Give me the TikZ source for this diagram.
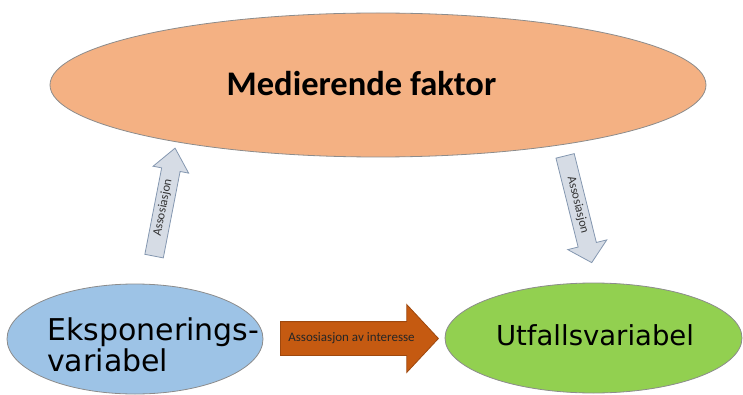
\documentclass[tikz,border=0pt]{standalone}
\usepackage{fontspec}
\usetikzlibrary{shapes.geometric,shapes.arrows}
\newfontfamily\carlito{Carlito}
\newfontfamily\dejavu{DejaVu Sans}
\definecolor{mediator}{HTML}{F4B183}
\definecolor{exposure}{HTML}{9DC3E6}
\definecolor{outcome}{HTML}{92D050}
\definecolor{assoc}{HTML}{D6DCE5}
\definecolor{assocline}{HTML}{8497B0}
\definecolor{interest}{HTML}{C55A11}
\definecolor{rim}{HTML}{8C8C8C}

\begin{document}
\begin{tikzpicture}[x=1pt,y=1pt,
  oval/.style={ellipse,draw=rim,line width=0.8pt,inner sep=0pt},
  thinarrow/.style={single arrow,draw=assocline,fill=assoc,line width=0.8pt,
    minimum height=110pt,text height=8pt,text depth=2.5pt,
    inner ysep=3.75pt,inner xsep=2pt,anchor=tail,
    font=\carlito\fontsize{12.5}{14}\selectfont,text=black!80}]
  \useasboundingbox (0,0) rectangle (743,394);

  % Three ovals
  \node[oval,fill=mediator,minimum width=656pt,minimum height=144pt] (med) at (378,309) {};
  \node[anchor=base,inner sep=0pt,font=\carlito\bfseries\fontsize{34.5}{40}\selectfont] (medtxt) at (361.5,298) {Medierende faktor};

  \node[oval,fill=exposure,minimum width=256pt,minimum height=110pt] (exp) at (135,55) {};
  \node[anchor=west,inner sep=0pt,align=left,font=\dejavu\fontsize{30}{31}\selectfont] (exptxt) at (47,49) {Eksponerings-\\variabel};

  \node[oval,fill=outcome,minimum width=297pt,minimum height=110pt] (out) at (593.5,56) {};
  \node[anchor=base,inner sep=0pt,font=\dejavu\fontsize{27.5}{32}\selectfont] (outtxt) at (595,49) {Utfallsvariabel};

  % Block arrows
  \node[thinarrow,rotate=79,single arrow head extend=8.7pt,single arrow tip angle=79] (up) at (154,137.5) {Assosiasjon};
  \node[thinarrow,rotate=-76,single arrow head extend=10.7pt,single arrow tip angle=95] (down) at (565,238.5) {Assosiasjon};
  \node[single arrow,draw=interest!80!black,fill=interest,line width=0.8pt,anchor=tail,
    minimum height=158pt,single arrow head extend=17pt,single arrow tip angle=94,
    text height=9pt,text depth=3pt,inner ysep=10.5pt,inner xsep=6pt,
    font=\carlito\fontsize{13}{15}\selectfont,text=black!85] (int) at (280,55.5) {Assosiasjon av interesse};
\end{tikzpicture}
\end{document}
